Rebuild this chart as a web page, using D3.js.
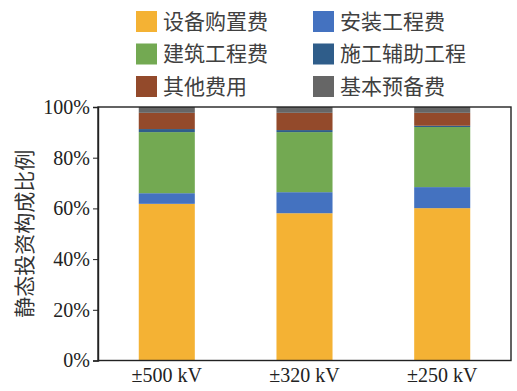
<!DOCTYPE html>
<html>
<head>
<meta charset="utf-8">
<script src="https://cdn.jsdelivr.net/npm/d3@7"></script>
<style>
  html, body { margin: 0; padding: 0; background: #fff; }
  svg { display: block; }
</style>
</head>
<body>
<svg id="chart" width="517" height="391"></svg>
<script>
// Voltage levels along the x axis
const categories = ["±500 kV", "±320 kV", "±250 kV"];

// Cost components (stack order bottom → top)
const seriesNames = ["设备购置费", "安装工程费", "建筑工程费", "施工辅助工程", "其他费用", "基本预备费"];
const seriesColors = ["#F4B234", "#4472C0", "#73A952", "#2F5D8A", "#934A2B", "#666666"];

// Share of static investment (%) per category, one array per component
const equipment    = [61.8, 58.1, 60.1];
const installation = [4.2, 8.3, 8.3];
const construction = [24.1, 23.7, 23.7];
const auxiliary    = [1.2, 0.8, 0.5];
const other        = [6.4, 6.8, 5.1];
const reserve      = [2.3, 2.3, 2.3];

const yTicks = [0, 20, 40, 60, 80, 100];
const yTitle = "静态投资构成比例";

const seriesValues = [equipment, installation, construction, auxiliary, other, reserve];
const rows = categories.map((c, i) => {
  const r = { cat: c };
  seriesNames.forEach((s, j) => { r[s] = seriesValues[j][i]; });
  return r;
});

const svg = d3.select("#chart");
const plot = { left: 98, right: 511, top: 107, bottom: 360.5 };

const x = d3.scaleBand().domain(categories).range([plot.left, plot.right])
  .paddingInner(0.593).paddingOuter(0.296);
const y = d3.scaleLinear().domain([0, 100]).range([plot.bottom, plot.top]);

const stack = d3.stack().keys(seriesNames)(rows);

svg.append("g").selectAll("g").data(stack).join("g")
  .attr("fill", (d, i) => seriesColors[i])
  .selectAll("rect").data(d => d).join("rect")
  .attr("x", d => x(d.data.cat))
  .attr("width", x.bandwidth())
  .attr("y", d => y(d[1]))
  .attr("height", d => y(d[0]) - y(d[1]));

// Frame around the plot area
svg.append("rect")
  .attr("x", plot.left).attr("y", plot.top)
  .attr("width", plot.right - plot.left).attr("height", plot.bottom - plot.top)
  .attr("fill", "none").attr("stroke", "#222").attr("stroke-width", 1.4);

// Y axis
const yAxis = svg.append("g")
  .attr("transform", `translate(${plot.left},0)`)
  .call(d3.axisLeft(y).tickValues(yTicks).tickFormat(d => d + "%").tickSize(5).tickPadding(3));
yAxis.select(".domain").attr("stroke", "#222").attr("stroke-width", 1.4);
yAxis.selectAll(".tick line").attr("stroke", "#222");
yAxis.selectAll(".tick text")
  .attr("font-family", "'Liberation Serif', 'Times New Roman', serif")
  .attr("font-size", 20).attr("fill", "#222");

// X axis labels
const xAxis = svg.append("g")
  .attr("transform", `translate(0,${plot.bottom})`)
  .call(d3.axisBottom(x).tickSize(0).tickPadding(7));
xAxis.select(".domain").remove();
xAxis.selectAll(".tick text")
  .attr("font-family", "'Liberation Serif', 'Times New Roman', serif")
  .attr("font-size", 20).attr("fill", "#222");

// Y axis title
svg.append("text")
  .attr("transform", `translate(32,${(plot.top + plot.bottom) / 2}) rotate(-90)`)
  .attr("text-anchor", "middle")
  .attr("font-family", "'Noto Sans CJK SC', sans-serif")
  .attr("font-size", 21).attr("fill", "#333")
  .text(yTitle);

// Legend: two columns, three rows
const legend = svg.append("g");
const legendItems = legend.selectAll("g").data(seriesNames).join("g")
  .attr("transform", (d, i) => {
    const col = i % 2, row = Math.floor(i / 2);
    return `translate(${col === 0 ? 136 : 313},${11 + row * 32.5})`;
  });
legendItems.append("rect")
  .attr("width", 21).attr("height", 21)
  .attr("fill", (d, i) => seriesColors[i]);
legendItems.append("text")
  .attr("x", 27).attr("y", 10.5).attr("dy", "0.35em")
  .attr("font-family", "'Noto Sans CJK SC', sans-serif")
  .attr("font-size", 21).attr("fill", "#404040")
  .text(d => d);
</script>
</body>
</html>
